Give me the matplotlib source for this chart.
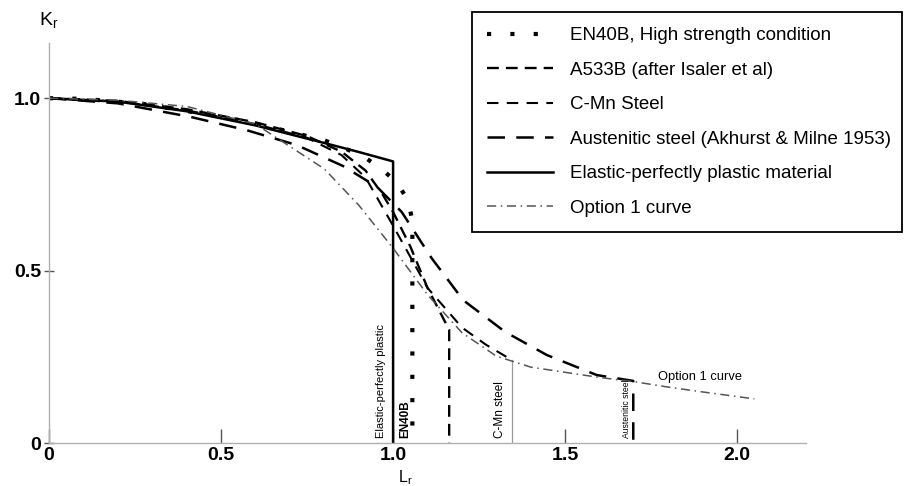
import matplotlib
matplotlib.use('Agg')
import matplotlib.pyplot as plt

plt.rcParams['font.family'] = ['Liberation Sans', 'DejaVu Sans']

# ---------------- data ----------------
# Elastic-perfectly plastic material (cut-off at Lr = 1.0)
epp_L = [0.0, 0.2, 0.4, 0.6, 0.8, 0.9, 1.0, 1.0]
epp_K = [1.0, 0.990, 0.962, 0.921, 0.870, 0.844, 0.8165, 0.0]

# EN40B, high strength condition (cut-off at Lr ~ 1.056)
en40b_L = [0.0, 0.1, 0.27, 0.46, 0.56, 0.69, 0.80, 0.858, 0.912, 0.964, 1.009, 1.044, 1.056, 1.056]
en40b_K = [1.0, 0.998, 0.984, 0.953, 0.935, 0.905, 0.878, 0.855, 0.832, 0.797, 0.757, 0.704, 0.643, 0.0]

# A533B (cut-off at Lr ~ 1.163)
a533_L = [0.0, 0.2, 0.4, 0.6, 0.75, 0.85, 0.92, 0.97, 1.0, 1.05, 1.1, 1.163, 1.163]
a533_K = [1.0, 0.992, 0.968, 0.930, 0.890, 0.845, 0.790, 0.720, 0.670, 0.570, 0.450, 0.328, 0.0]

# C-Mn steel (cut-off at Lr ~ 1.346)
cmn_L = [0.0, 0.2, 0.4, 0.6, 0.75, 0.85, 0.92, 0.96, 1.0, 1.05, 1.1, 1.2, 1.27, 1.346]
cmn_K = [1.0, 0.990, 0.965, 0.925, 0.885, 0.835, 0.770, 0.700, 0.630, 0.540, 0.450, 0.335, 0.285, 0.240]
cmn_cut_L = [1.346, 1.346]
cmn_cut_K = [0.240, 0.0]

# Austenitic steel (cut-off at Lr ~ 1.698)
aus_L = [0.0, 0.2, 0.41, 0.575, 0.72, 0.855, 0.953, 1.025, 1.112, 1.204, 1.326, 1.447, 1.592, 1.698, 1.698]
aus_K = [1.0, 0.985, 0.946, 0.907, 0.864, 0.803, 0.743, 0.670, 0.536, 0.414, 0.322, 0.255, 0.197, 0.180, 0.0]

# Option 1 curve
opt_L = [0.0, 0.2, 0.4, 0.6, 0.8, 0.9, 1.0, 1.1, 1.2, 1.3, 1.4, 1.5, 1.6, 1.7, 1.8, 1.9, 2.05]
opt_K = [1.0, 0.994, 0.976, 0.925, 0.795, 0.690, 0.565, 0.430, 0.320, 0.252, 0.220, 0.205, 0.190, 0.178, 0.162, 0.148, 0.128]

x_ticks = [0, 0.5, 1.0, 1.5, 2.0]
x_tick_labels = ['0', '0.5', '1.0', '1.5', '2.0']
y_ticks = [0, 0.5, 1.0]
y_tick_labels = ['0', '0.5', '1.0']

legend_labels = [
    'EN40B, High strength condition',
    'A533B (after Isaler et al)',
    'C-Mn Steel',
    'Austenitic steel (Akhurst & Milne 1953)',
    'Elastic-perfectly plastic material',
    'Option 1 curve',
]

# ---------------- figure ----------------
W, H = 910, 486
fig = plt.figure(figsize=(W / 100, H / 100), dpi=100)
ax = fig.add_axes([49 / W, 43 / H, 757 / W, 400 / H])

l_en, = ax.plot(en40b_L, en40b_K, color='black', lw=3.0,
                linestyle=(0, (1, 4.6)), dash_capstyle='butt')
l_a5, = ax.plot(a533_L, a533_K, color='black', lw=1.7,
                linestyle=(0, (5, 3)))
l_cm, = ax.plot(cmn_L, cmn_K, color='black', lw=1.5,
                linestyle=(0, (5.5, 4)))
ax.plot(cmn_cut_L, cmn_cut_K, color='#9a9a9a', lw=0.9)
l_au, = ax.plot(aus_L, aus_K, color='black', lw=1.8,
                linestyle=(0, (7, 4.5)))
l_ep, = ax.plot(epp_L, epp_K, color='black', lw=1.8)
l_op, = ax.plot(opt_L, opt_K, color='#555555', lw=1.1,
                linestyle=(0, (6, 3, 1, 3)))

ax.set_xlim(0, 2.2)
ax.set_ylim(0, 1.16)

for s in ['top', 'right']:
    ax.spines[s].set_visible(False)
for s in ['left', 'bottom']:
    ax.spines[s].set_color('#b0b0b0')
    ax.spines[s].set_linewidth(1.0)

ax.set_xticks(x_ticks)
ax.set_xticklabels(x_tick_labels)
ax.set_yticks(y_ticks)
ax.set_yticklabels(y_tick_labels)
ax.tick_params(axis='x', direction='in', length=10, width=1, color='#555555',
               labelsize=14, pad=3)
ax.tick_params(axis='y', direction='inout', length=7, width=1, color='#555555',
               labelsize=14, pad=2)
for lab in ax.get_xticklabels() + ax.get_yticklabels():
    lab.set_fontweight('bold')

ax.set_xlabel(r'L$_\mathregular{r}$', fontsize=11.5)
ax.xaxis.set_label_coords(1.035 / 2.2, -0.062)
ax.set_ylabel(r'K$_\mathregular{r}$', fontsize=14, rotation=0)
ax.yaxis.set_label_coords(0.0, 1.03)

# vertical labels at cut-offs
ax.text(0.965, 0.015, 'Elastic-perfectly plastic', rotation=90, fontsize=8,
        ha='center', va='bottom')
ax.text(1.035, 0.015, 'EN40B', rotation=90, fontsize=8.5, fontweight='bold',
        ha='center', va='bottom')
ax.text(1.311, 0.015, 'C-Mn steel', rotation=90, fontsize=8.5,
        ha='center', va='bottom')
ax.text(1.677, 0.015, 'Austenitic steel', rotation=90, fontsize=6.2,
        ha='center', va='bottom')
ax.text(1.77, 0.19, 'Option 1 curve', fontsize=9.3, ha='left', va='center')

leg = ax.legend([l_en, l_a5, l_cm, l_au, l_ep, l_op], legend_labels,
                loc='upper left',
                bbox_to_anchor=(472 / W, 1 - 237 / H, 430 / W, 225 / H),
                bbox_transform=fig.transFigure, mode='expand',
                fontsize=13.5, frameon=True, fancybox=False, shadow=False,
                framealpha=1, edgecolor='black', borderpad=0.8,
                labelspacing=0.93, handlelength=3.5, handletextpad=0.9,
                borderaxespad=0)
leg.get_frame().set_linewidth(1.3)

fig.savefig('out.png', dpi=100)
